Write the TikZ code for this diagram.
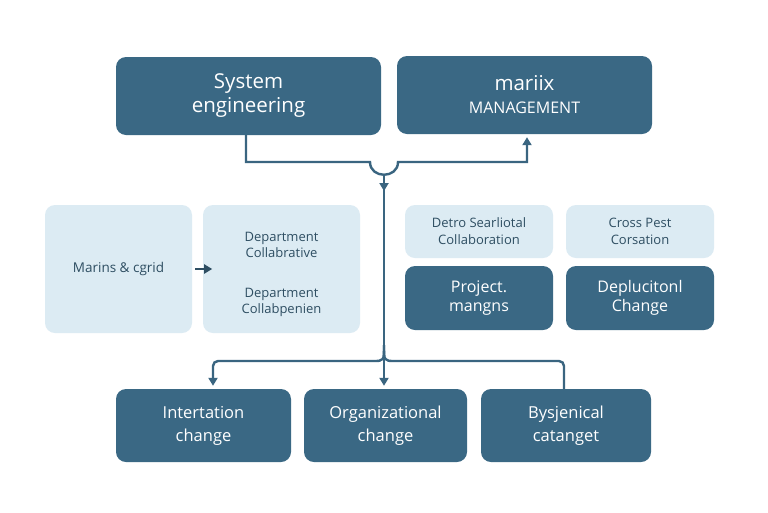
\documentclass[tikz,border=0pt]{standalone}
\usepackage{fontspec}
\setmainfont{Open Sans}
\usetikzlibrary{arrows.meta}
\definecolor{dk}{HTML}{3A6884}
\definecolor{lt}{HTML}{DCEBF3}
\definecolor{ln}{HTML}{3A6580}
\definecolor{tx}{HTML}{2E4E62}
\begin{document}
\begin{tikzpicture}[x=1pt,y=-1pt,
 darkbox/.style={fill=dk, rounded corners=10pt, text=white, align=center, inner sep=0pt},
 lightbox/.style={fill=lt, rounded corners=10pt, text=tx, align=center, inner sep=0pt},
 plain/.style={text=tx, align=center, inner sep=0pt},
 conn/.style={draw=ln, line width=2.4pt},
 arr/.style={conn, -{Triangle[length=8pt,width=9pt]}},
 big/.style={font=\fontsize{20.5}{24}\selectfont},
 mid/.style={font=\fontsize{16.5}{23}\selectfont},
 mids/.style={font=\fontsize{16}{19}\selectfont},
 sml/.style={font=\fontsize{13}{16}\selectfont},
 smlb/.style={font=\fontsize{13}{17}\selectfont},
]
\path[use as bounding box, fill=white] (0,0) rectangle (768,512);

% top row
\node[darkbox, big, minimum width=265pt, minimum height=78pt] (se) at (248.5,96) {System\\engineering};
\node[darkbox, big, minimum width=255pt, minimum height=78pt] (mx) at (524.5,95) {mariix\\[-1pt]\fontsize{16}{24}\selectfont MANAGEMENT};

% middle left
\node[lightbox, font=\fontsize{13.5}{16}\selectfont, minimum width=147pt, minimum height=128pt] (mc) at (118.5,269) {Marins \& cgrid};
\node[lightbox, minimum width=157pt, minimum height=128pt] (db) at (281.5,269) {};
\node[plain, sml] (d1) at (281.5,244.5) {Department\\Collabrative};
\node[plain, sml] (d2) at (281.5,302) {Department\\Collabpenien};

% middle right
\node[lightbox, smlb, minimum width=148pt, minimum height=53pt] (ds) at (479,231.5) {Detro Searliotal\\Collaboration};
\node[lightbox, smlb, minimum width=148pt, minimum height=53pt] (cp) at (640,231.5) {Cross Pest\\Corsation};
\node[darkbox, mids, minimum width=148pt, minimum height=64pt] (pm) at (479,298) {Project.\\mangns};
\node[darkbox, mids, minimum width=148pt, minimum height=64pt] (dc) at (640,298) {Deplucitonl\\Change};

% bottom row
\node[darkbox, mid, minimum width=175pt, minimum height=73pt] (ic) at (203.5,425.5) {Intertation\\change};
\node[darkbox, mid, minimum width=163pt, minimum height=73pt] (oc) at (385.5,425.5) {Organizational\\change};
\node[darkbox, mid, minimum width=170pt, minimum height=73pt] (bc) at (566,425.5) {Bysjenical\\catanget};

% connectors
\coordinate (a1) at (246,162);
\coordinate (a2) at (527,162);
\coordinate (b0) at (384,175);
\coordinate (sp) at (384,345);
\coordinate (l1) at (213,361);
\coordinate (r1) at (564,361);

\draw[arr, shorten >=3pt] (se.south -| a1) -- (a1) -- (370,162) .. controls (370,179) and (398,179) .. (398,162) -- (a2) -- (mx.south -| a2);
\draw[arr] (b0) -- (384,191);
\draw[conn] (384,186) -- (sp);
\draw[arr, shorten >=3pt, rounded corners=5pt] (sp) .. controls (384,361) .. (368,361) -- (l1) -- (ic.north -| l1);
\draw[arr, shorten >=3pt] (sp) -- (oc.north -| sp);
\draw[conn, rounded corners=5pt] (sp) .. controls (384,361) .. (400,361) -- (r1) -- (bc.north -| r1);
\draw[arr, line width=2.5pt, draw=tx] ([xshift=3pt]mc.east) -- ++(17,0);
\end{tikzpicture}
\end{document}
